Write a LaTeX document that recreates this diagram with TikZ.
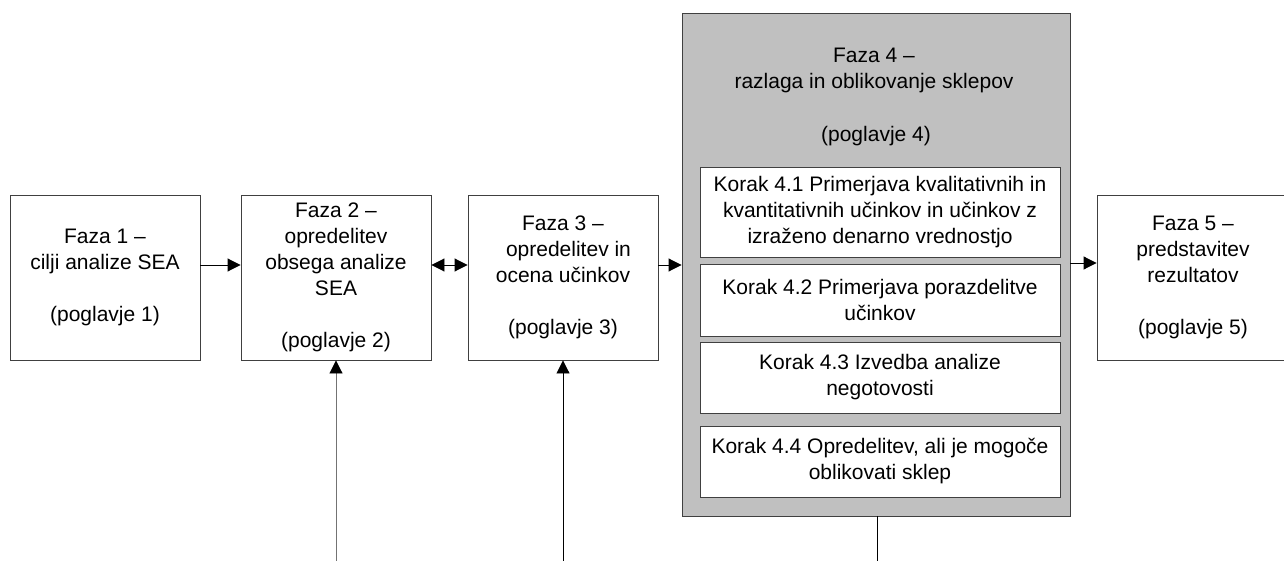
\documentclass[tikz,border=0pt]{standalone}
\usepackage{fontspec}
\setmainfont{Liberation Sans}
\usetikzlibrary{arrows.meta}
\begin{document}
\begin{tikzpicture}[x=1pt,y=-1pt,
  txt/.style={font=\fontsize{21}{26}\selectfont, align=center},
  phase/.style={txt, draw=black!75, line width=0.9pt, fill=white,
    minimum width=190pt, minimum height=165pt, inner sep=0pt},
  phasefour/.style={draw=black!75, line width=0.9pt, fill={rgb,255:red,192;green,192;blue,192},
    minimum width=388pt, minimum height=503pt, inner sep=0pt},
  stepbox/.style={txt, draw=black!75, line width=0.9pt, fill=white,
    minimum width=360pt, inner sep=0pt},
  link/.style={line width=0.9pt, black},
  tip/.style={-{Triangle[length=13pt,width=13pt,color=black]}},
  twotip/.style={{Triangle[length=13pt,width=13pt]}-{Triangle[length=13pt,width=13pt]}}]
\useasboundingbox (0,0) rectangle (1284,561);

% phase 4 frame with its steps
\node[phasefour] (f4) at (876,264.5) {};
\node[txt] (f4t) at (874,70) {Faza 4 --\\razlaga in oblikovanje sklepov};
\node[txt] (f4p) at (876,136) {(poglavje 4)};
\node[stepbox, minimum height=90pt] (s1) at (880,212) {Korak 4.1 Primerjava kvalitativnih in\\kvantitativnih učinkov in učinkov z\\izraženo denarno vrednostjo};
\node[stepbox, minimum height=72pt] (s2) at (880,300) {Korak 4.2 Primerjava porazdelitve\\učinkov};
\node[stepbox, minimum height=71pt] (s3) at (880,377.5) {Korak 4.3 Izvedba analize\\negotovosti};
\node[stepbox, minimum height=71pt] (s4) at (880,461.5) {Korak 4.4 Opredelitev, ali je mogoče\\oblikovati sklep};

% the other phases
\node[phase] (f1) at (105,277.5) {Faza 1 --\\cilji analize SEA\\[26pt](poglavje 1)};
\node[phase] (f2) at (336,277.5) {Faza 2 --\\opredelitev\\obsega analize\\SEA\\[26pt](poglavje 2)};
\node[phase] (f3) at (563,277.5) {Faza 3 --\\\hspace*{11pt}opredelitev in\\ocena učinkov\\[26pt](poglavje 3)};
\node[phase, minimum width=192pt] (f5) at (1193,277.5) {Faza 5 --\\predstavitev\\rezultatov\\[26pt](poglavje 5)};

% free ends at the lower edge
\coordinate (in2) at (336,561);
\coordinate (in3) at (563,561);
\coordinate (out4) at (877,561);

% connectors
\draw[link, tip] (f1.east |- 0,265) -- (f2.west |- 0,265);
\draw[link, twotip] (f2.east |- 0,265) -- (f3.west |- 0,265);
\draw[link, tip] (f3.east |- 0,265) -- (f4.west |- 0,265);
\draw[link, tip] (f4.east |- 0,263) -- (f5.west |- 0,263);
\draw[link, tip, black!55] (in2) -- (f2.south);
\draw[link, tip] (in3) -- (f3.south);
\draw[link] (f4.south -| out4) -- (out4);
\end{tikzpicture}
\end{document}
